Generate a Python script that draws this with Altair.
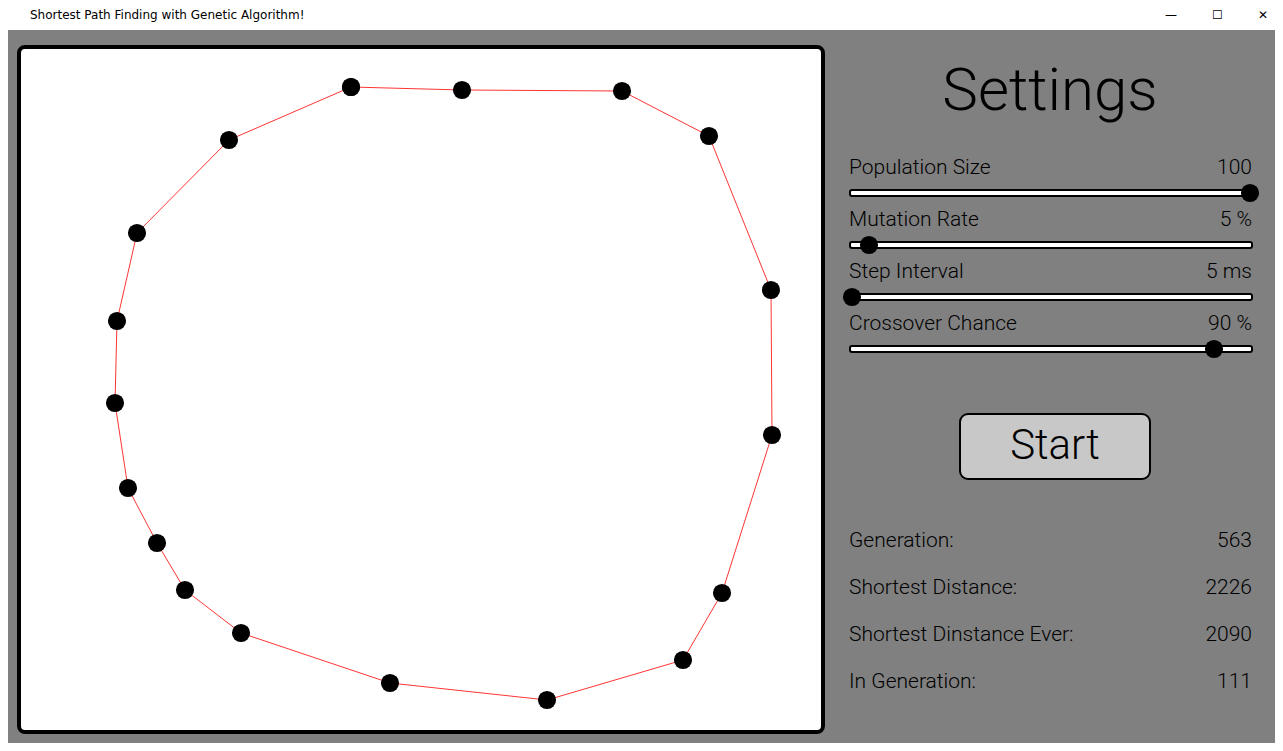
import pandas as pd
import altair as alt

# city coordinates (screen pixels) in tour order
city_x = [351, 462, 622, 709, 771, 772, 722, 683, 547, 390, 241, 185, 157, 128, 115, 117, 137, 229]
city_y = [87, 90, 91, 136, 290, 435, 593, 660, 700, 683, 633, 590, 543, 488, 403, 321, 233, 140]

slider_names = ["Population Size", "Mutation Rate", "Step Interval", "Crossover Chance"]
slider_values = ["100", "5 %", "5 ms", "90 %"]
slider_knob_x = [1250, 869, 852, 1214]

stat_names = ["Generation:", "Shortest Distance:", "Shortest Dinstance Ever:", "In Generation:"]
stat_values = ["563", "2226", "2090", "111"]

W, H = 1267, 735
X = alt.X("x:Q", scale=alt.Scale(domain=[8, 1275]), axis=None)
Y = alt.Y("y:Q", scale=alt.Scale(domain=[8, 743], reverse=True), axis=None)
X2 = alt.X2("x2:Q")
Y2 = alt.Y2("y2:Q")
FONT = "Roboto"

def rects(rows):
    return pd.DataFrame(rows, columns=["x", "y", "x2", "y2"])

bg = alt.Chart(rects([[8, 30, 1275, 743]])).mark_rect(color="#808080").encode(x=X, y=Y, x2=X2, y2=Y2)
titlebar = alt.Chart(rects([[8, 8, 1275, 30]])).mark_rect(color="white").encode(x=X, y=Y, x2=X2, y2=Y2)
title_txt = alt.Chart(pd.DataFrame({"x": [30, 1165, 1212, 1258], "y": [15, 15, 15, 15],
                                    "t": ["Shortest Path Finding with Genetic Algorithm!", "—", "☐", "✕"]})).mark_text(
    align="left", fontSize=12, font="Segoe UI, DejaVu Sans", color="black").encode(x=X, y=Y, text="t:N")

panel = alt.Chart(rects([[19, 47, 823, 732]])).mark_rect(
    color="white", stroke="black", strokeWidth=4, cornerRadius=6).encode(x=X, y=Y, x2=X2, y2=Y2)

tour = pd.DataFrame({"x": city_x + city_x[:1], "y": city_y + city_y[:1], "o": list(range(len(city_x) + 1))})
path = alt.Chart(tour).mark_line(color="red", strokeWidth=0.8).encode(x=X, y=Y, order="o:Q")
cities = alt.Chart(tour).mark_circle(size=330, color="black", opacity=1).encode(x=X, y=Y)

settings = alt.Chart(pd.DataFrame({"x": [1050], "y": [92], "t": ["Settings"]})).mark_text(
    fontSize=60, font=FONT, fontWeight=300, color="black").encode(x=X, y=Y, text="t:N")

sy = [168, 220, 272, 324]
lab = alt.Chart(pd.DataFrame({"x": [849] * 4, "y": sy, "t": slider_names})).mark_text(
    align="left", fontSize=21, font=FONT, fontWeight=300, color="black").encode(x=X, y=Y, text="t:N")
val = alt.Chart(pd.DataFrame({"x": [1252] * 4, "y": sy, "t": slider_values})).mark_text(
    align="right", fontSize=21, font=FONT, fontWeight=300, color="black").encode(x=X, y=Y, text="t:N")
ty = [193, 245, 297, 349]
tracks = alt.Chart(rects([[850, t - 3, 1252, t + 3] for t in ty])).mark_rect(
    color="white", stroke="black", strokeWidth=2, cornerRadius=2).encode(x=X, y=Y, x2=X2, y2=Y2)
knobs = alt.Chart(pd.DataFrame({"x": slider_knob_x, "y": ty})).mark_circle(
    size=330, color="black", opacity=1).encode(x=X, y=Y)

button = alt.Chart(rects([[960, 414, 1150, 479]])).mark_rect(
    color="#c8c8c8", stroke="black", strokeWidth=2, cornerRadius=8).encode(x=X, y=Y, x2=X2, y2=Y2)
start = alt.Chart(pd.DataFrame({"x": [1055], "y": [446], "t": ["Start"]})).mark_text(
    fontSize=42, font=FONT, fontWeight=300, color="black").encode(x=X, y=Y, text="t:N")

ry = [541, 588, 635, 682]
stl = alt.Chart(pd.DataFrame({"x": [849] * 4, "y": ry, "t": stat_names})).mark_text(
    align="left", fontSize=21, font=FONT, fontWeight=300, color="black").encode(x=X, y=Y, text="t:N")
stv = alt.Chart(pd.DataFrame({"x": [1252] * 4, "y": ry, "t": stat_values})).mark_text(
    align="right", fontSize=21, font=FONT, fontWeight=300, color="black").encode(x=X, y=Y, text="t:N")

chart = alt.layer(bg, titlebar, title_txt, panel, path, cities, settings, lab, val, tracks, knobs,
                  button, start, stl, stv).properties(
    width=W, height=H, padding=0, autosize=alt.AutoSizeParams(type="none")
).configure_view(stroke=None)

chart.save("out.html", embed_options={"renderer": "svg", "actions": False})
